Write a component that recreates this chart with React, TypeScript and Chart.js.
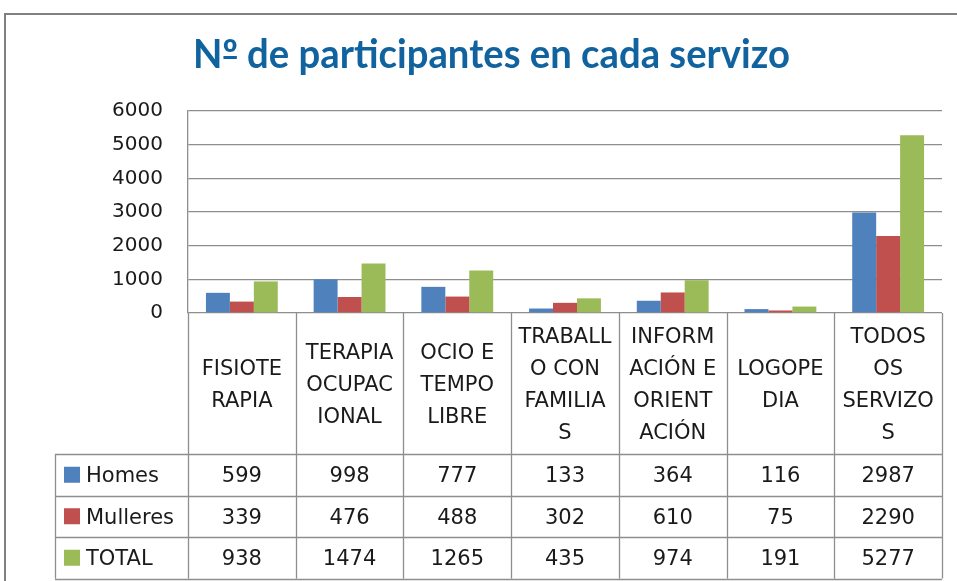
import { useEffect, useRef } from "react";
import { Chart, registerables } from "chart.js";

Chart.register(...registerables);

const titleText = "Nº de participantes en cada servizo";
const categories = [
  "FISIOTERAPIA",
  "TERAPIA OCUPACIONAL",
  "OCIO E TEMPO LIBRE",
  "TRABALLO CON FAMILIAS",
  "INFORMACIÓN E ORIENTACIÓN",
  "LOGOPEDIA",
  "TODOS OS SERVIZOS",
];
const categoryLines = [
  ["FISIOTE", "RAPIA"],
  ["TERAPIA", "OCUPAC", "IONAL"],
  ["OCIO E", "TEMPO", "LIBRE"],
  ["TRABALL", "O CON", "FAMILIA", "S"],
  ["INFORM", "ACIÓN E", "ORIENT", "ACIÓN"],
  ["LOGOPE", "DIA"],
  ["TODOS", "OS", "SERVIZO", "S"],
];
const seriesNames = ["Homes", "Mulleres", "TOTAL"];
const homes = [599, 998, 777, 133, 364, 116, 2987];
const mulleres = [339, 476, 488, 302, 610, 75, 2290];
const total = [938, 1474, 1265, 435, 974, 191, 5277];
const seriesColors = ["#4F81BD", "#C0504D", "#9BBB59"];
const yTicks = [0, 1000, 2000, 3000, 4000, 5000, 6000];

const FONT = "'DejaVu Sans', sans-serif";
const TITLE_FONT = "Lato, 'Open Sans', sans-serif";
const GRID = "#8e8e8e";
const TEXT = "#1a1a1a";

const tablePlugin = {
  id: "excelTable",
  afterDraw(chart: any) {
    const ctx = chart.ctx as CanvasRenderingContext2D;
    const { left, right, bottom } = chart.chartArea;
    const xs = chart.scales.x;
    const n = categories.length;
    const catW = (right - left) / n;
    const headerBottom = 454;
    const rowH = 41.5;
    const tableLeft = 55;
    const tableBottom = headerBottom + rowH * 3;

    ctx.save();
    // Title (condensed)
    ctx.font = `bold 40px ${TITLE_FONT}`;
    ctx.fillStyle = "#11639f";
    ctx.textBaseline = "alphabetic";
    ctx.textAlign = "left";
    const tw = ctx.measureText(titleText).width;
    const sx = 597 / tw;
    ctx.save();
    ctx.translate(193, 68);
    ctx.scale(sx, 1);
    ctx.fillText(titleText, 0, 0);
    const nW = ctx.measureText("N").width;
    const oW = ctx.measureText("º").width;
    ctx.fillRect(nW + 1, -12, oW - 2, 3);
    ctx.restore();

    // Outer frame
    ctx.strokeStyle = "#808080";
    ctx.lineWidth = 2;
    ctx.beginPath();
    ctx.moveTo(5, 581);
    ctx.lineTo(5, 14);
    ctx.lineTo(957, 14);
    ctx.stroke();

    // Table lines
    ctx.strokeStyle = GRID;
    ctx.lineWidth = 1.3;
    ctx.beginPath();
    for (let i = 0; i <= n; i++) {
      const x = i < n ? xs.getPixelForValue(i) - catW / 2 : xs.getPixelForValue(n - 1) + catW / 2;
      ctx.moveTo(Math.round(x) + 0.5, bottom);
      ctx.lineTo(Math.round(x) + 0.5, tableBottom);
    }
    for (let r = 0; r <= 3; r++) {
      const y = Math.round(headerBottom + r * rowH) + 0.5;
      ctx.moveTo(tableLeft, y);
      ctx.lineTo(right, y);
    }
    ctx.moveTo(tableLeft + 0.5, headerBottom);
    ctx.lineTo(tableLeft + 0.5, tableBottom);
    ctx.stroke();

    // Header text
    ctx.fillStyle = TEXT;
    ctx.font = `21px ${FONT}`;
    ctx.textAlign = "center";
    ctx.textBaseline = "middle";
    const headerMid = (bottom + headerBottom) / 2 + 2;
    const lh = 32;
    categoryLines.forEach((lines, i) => {
      const cx = xs.getPixelForValue(i);
      const y0 = headerMid - ((lines.length - 1) * lh) / 2;
      lines.forEach((ln, k) => ctx.fillText(ln, cx, y0 + k * lh));
    });

    // Rows
    const rows = [homes, mulleres, total];
    rows.forEach((vals, r) => {
      const cy = headerBottom + r * rowH + rowH / 2;
      ctx.fillStyle = seriesColors[r];
      ctx.fillRect(64, cy - 8, 16, 16);
      ctx.fillStyle = TEXT;
      ctx.textAlign = "left";
      ctx.fillText(seriesNames[r], 86, cy + 2);
      ctx.textAlign = "center";
      vals.forEach((v, i) => ctx.fillText(String(v), xs.getPixelForValue(i), cy + 2));
    });
    ctx.restore();
  },
};

export default function App() {
  const ref = useRef<HTMLCanvasElement>(null);
  useEffect(() => {
    document.body.style.margin = "0";
    const chart = new Chart(ref.current as HTMLCanvasElement, {
      type: "bar",
      data: {
        labels: categories,
        datasets: [
          { label: seriesNames[0], data: homes, backgroundColor: seriesColors[0] },
          { label: seriesNames[1], data: mulleres, backgroundColor: seriesColors[1] },
          { label: seriesNames[2], data: total, backgroundColor: seriesColors[2] },
        ],
      },
      options: {
        animation: false,
        responsive: false,
        events: [],
        layout: { padding: { left: 0, top: 111, right: 15, bottom: 268 } },
        datasets: { bar: { categoryPercentage: 0.667, barPercentage: 1 } },
        plugins: { legend: { display: false }, title: { display: false }, tooltip: { enabled: false } },
        scales: {
          x: {
            ticks: { display: false },
            grid: { display: false },
            border: { display: false },
            afterFit: (s: any) => {
              s.height = 0;
            },
          },
          y: {
            min: 0,
            max: 6000,
            afterBuildTicks: (s: any) => {
              s.ticks = yTicks.map((v) => ({ value: v }));
            },
            ticks: {
              color: TEXT,
              font: { family: FONT, size: 20 },
              padding: 25,
              callback: (v: any) => String(v),
            },
            grid: { color: GRID, lineWidth: 1.3, drawTicks: false },
            border: { display: true, color: GRID, width: 1.3 },
            afterFit: (s: any) => {
              s.width = 188;
            },
          },
        },
      },
      plugins: [tablePlugin],
    });
    return () => chart.destroy();
  }, []);
  return <canvas ref={ref} width={957} height={581} />;
}
